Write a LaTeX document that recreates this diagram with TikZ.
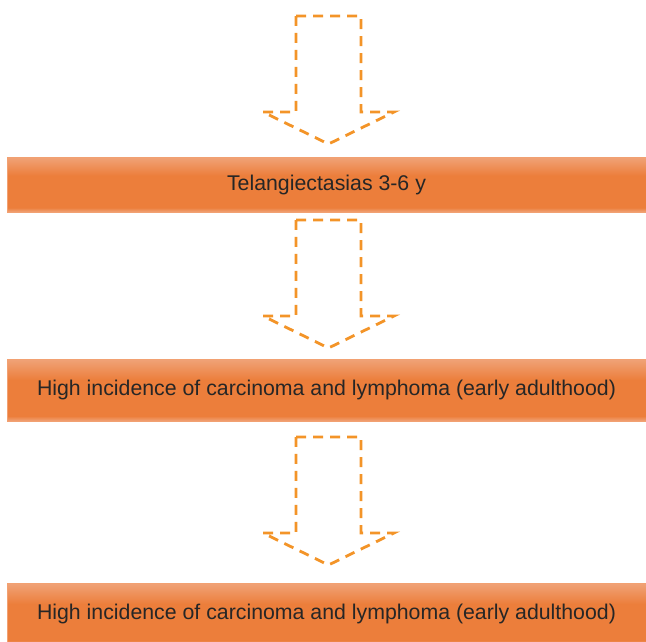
\documentclass[tikz,border=0pt]{standalone}
\usepackage{fontspec}
\setmainfont{Liberation Sans}

\definecolor{stageorange}{HTML}{EC7E3B}
\definecolor{stagelight}{HTML}{F0A378}
\definecolor{stageedge}{HTML}{F2A172}
\definecolor{arroworange}{HTML}{F39428}
\definecolor{stagetext}{HTML}{262626}

% glossy band: light rim at top and bottom, flat orange in the middle
\pgfdeclareverticalshading{stage shading}{100bp}{%
  color(0bp)=(stagelight); color(25bp)=(stagelight);
  color(29bp)=(stageorange); color(58bp)=(stageorange);
  color(75bp)=(stagelight); color(100bp)=(stagelight)}

\begin{document}
\begin{tikzpicture}[
    x = 1pt, y = -1pt,
    stage/.style = {draw = stageedge, line width = 1pt,
      shading = stage shading, minimum width = 639pt, minimum height = 62pt,
      inner sep = 0pt, text = stagetext,
      font = \fontsize{21.3}{25}\selectfont},
    hollow arrow/.style = {draw = arroworange, line width = 2.8pt,
      dash pattern = on 10pt off 7pt, line join = miter},
  ]
  \clip (0,0) rectangle (646,641);

  \node [stage, minimum height = 55pt] (telangiectasia) at (326.5,184.5)
        {Telangiectasias 3-6 y};
  \node [stage] (tumours early) at (326.5,390)
        {High incidence of carcinoma and lymphoma (early adulthood)};
  \node [stage] (tumours late) at (326.5,614)
        {High incidence of carcinoma and lymphoma (early adulthood)};

  % block arrows, hung from the top of their shaft
  \foreach \top [count = \i] in {16,220,437} {
    \coordinate (arrow top \i) at (328.5,\top);
    \draw [hollow arrow] (arrow top \i) ++(-32.5,0) -- ++(65,0) -- ++(0,96)
          -- ++(33,0) -- ++(-65.5,32) -- ++(-65.5,-32) -- ++(33,0) -- cycle;
  }
\end{tikzpicture}
\end{document}
